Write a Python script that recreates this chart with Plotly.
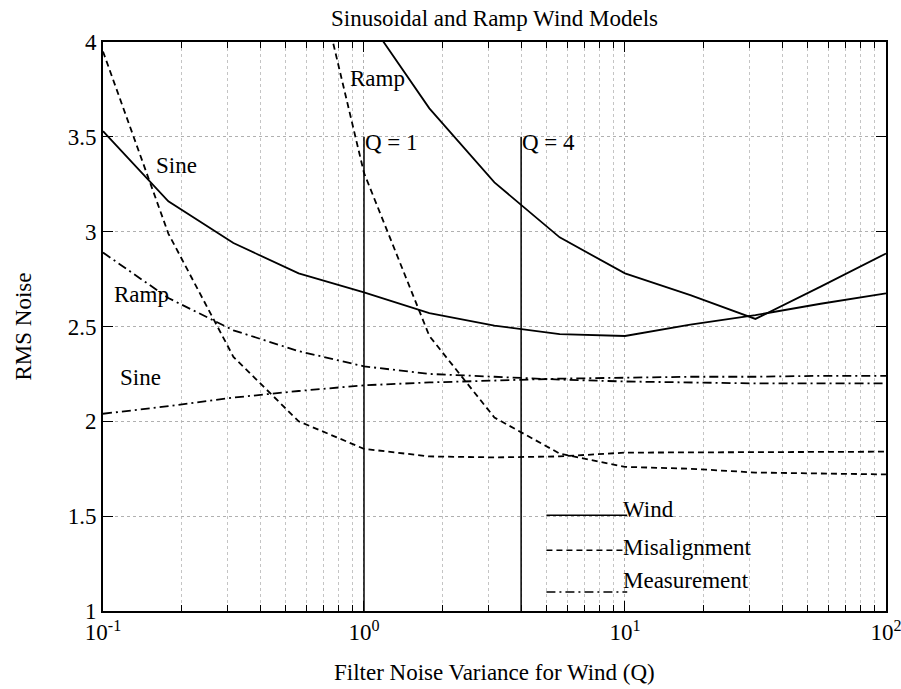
import math
import plotly.graph_objects as go

# ---- data ----
Q = [0.1, 0.178, 0.316, 0.562, 1.0, 1.78, 3.16, 5.62, 10.0, 17.8, 31.6, 56.2, 100.0]
wind_sine = [3.53, 3.16, 2.94, 2.78, 2.68, 2.57, 2.505, 2.46, 2.45, 2.51, 2.56, 2.62, 2.675]
Q_wind_ramp = [1.0, 1.78, 3.16, 5.62, 10.0, 17.8, 31.6, 56.2, 100.0]
wind_ramp = [4.15, 3.65, 3.26, 2.97, 2.78, 2.665, 2.54, 2.71, 2.885]
mis_sine = [3.95, 2.99, 2.34, 2.0, 1.855, 1.815, 1.81, 1.815, 1.835, 1.837, 1.838, 1.84, 1.84]
Q_mis_ramp = [0.562, 1.0, 1.78, 3.16, 5.62, 10.0, 17.8, 31.6, 56.2, 100.0]
mis_ramp = [4.76, 3.31, 2.45, 2.02, 1.83, 1.76, 1.75, 1.73, 1.725, 1.72]
meas_ramp = [2.89, 2.65, 2.48, 2.37, 2.29, 2.25, 2.235, 2.22, 2.21, 2.205, 2.2, 2.2, 2.2]
meas_sine = [2.04, 2.08, 2.125, 2.16, 2.19, 2.205, 2.215, 2.225, 2.23, 2.235, 2.235, 2.24, 2.24]

q_marks = [1, 4]
q_mark_y = [1, 3.5]
q_mark_labels = ["Q = 1", "Q = 4"]

legend_names = ["Wind", "Misalignment", "Measurement"]
legend_x = [5.0, 10.2]
legend_line_y = [1.505, 1.32, 1.10]
legend_text_y = [1.535, 1.335, 1.16]
legend_text_x = 10.0

curve_labels = [("Sine", 0.192, 3.35, "center"), ("Ramp", 0.868, 3.805, "left"),
                ("Ramp", 0.108, 2.67, "left"), ("Sine", 0.114, 2.23, "left")]

y_ticks = [1, 1.5, 2, 2.5, 3, 3.5, 4]
y_tick_text = ["1", "1.5", "2", "2.5", "3", "3.5", "4"]
x_ticks = [0.1, 1, 10, 100]
x_tick_text = ["10<sup>-1</sup>", "10<sup>0</sup>", "10<sup>1</sup>", "10<sup>2</sup>"]
x_minor = [0.2, 0.3, 0.4, 0.5, 0.6, 0.7, 0.8, 0.9, 2, 3, 4, 5, 6, 7, 8, 9,
           20, 30, 40, 50, 60, 70, 80, 90]

FONT = "Liberation Serif"
FS = 23
styles = {"Wind": "solid", "Misalignment": "6px,4px", "Measurement": "9px,4px,2px,4px"}
LW = 1.8

fig = go.Figure()

def add_line(x, y, kind):
    fig.add_trace(go.Scatter(x=x, y=y, mode="lines", showlegend=False,
                             line=dict(color="black", width=LW, dash=styles[kind])))

add_line(Q, wind_sine, "Wind")
add_line(Q_wind_ramp, wind_ramp, "Wind")
add_line(Q, mis_sine, "Misalignment")
add_line(Q_mis_ramp, mis_ramp, "Misalignment")
add_line(Q, meas_ramp, "Measurement")
add_line(Q, meas_sine, "Measurement")

for qx, lab in zip(q_marks, q_mark_labels):
    fig.add_trace(go.Scatter(x=[qx, qx], y=q_mark_y, mode="lines", showlegend=False,
                             line=dict(color="black", width=1.5)))
    fig.add_annotation(x=math.log10(qx), y=3.47, xref="x", yref="y", text=lab,
                       showarrow=False, xanchor="left", yanchor="middle", xshift=-1,
                       font=dict(family=FONT, size=FS, color="black"))

for name, ly, ty in zip(legend_names, legend_line_y, legend_text_y):
    fig.add_trace(go.Scatter(x=legend_x, y=[ly, ly], mode="lines", showlegend=False,
                             line=dict(color="black", width=1.5, dash=styles[name])))
    fig.add_annotation(x=math.log10(legend_text_x), y=ty, xref="x", yref="y", text=name,
                       showarrow=False, xanchor="left", yanchor="middle", xshift=-4,
                       font=dict(family=FONT, size=FS, color="black"))

for txt, cx, cy, anc in curve_labels:
    fig.add_annotation(x=math.log10(cx), y=cy, xref="x", yref="y", text=txt,
                       showarrow=False, xanchor=anc, yanchor="middle",
                       font=dict(family=FONT, size=FS, color="black"))

fig.update_layout(
    width=901, height=689,
    margin=dict(l=103, r=15, t=42, b=78, autoexpand=False),
    paper_bgcolor="white", plot_bgcolor="white",
    font=dict(family=FONT, size=FS, color="black"),
    title=dict(text="Sinusoidal and Ramp Wind Models", x=0.5, xref="paper",
               y=1 - 18 / 689, yanchor="middle", font=dict(family=FONT, size=FS)),
    showlegend=False,
)

fig.update_xaxes(type="log", range=[-1, 2.0001], tickmode="array", tickvals=x_ticks,
                 ticktext=x_tick_text, ticks="inside", ticklen=10, tickwidth=1.2,
                 tickcolor="black", showline=True, linecolor="black", linewidth=1.6,
                 mirror="allticks", showgrid=True, gridcolor="#b0b0b0", griddash="dot",
                 gridwidth=1, zeroline=False, ticklabeloverflow="allow", automargin=False,
                 minor=dict(tickmode="array", tickvals=x_minor, ticks="inside", ticklen=6,
                            tickcolor="black", showgrid=True, gridcolor="#c4c4c4",
                            griddash="dot", gridwidth=1),
                 tickfont=dict(family=FONT, size=FS))
fig.update_yaxes(range=[1, 4], tickmode="array", tickvals=y_ticks, ticktext=y_tick_text,
                 ticks="inside", ticklen=10, tickwidth=1.2, tickcolor="black",
                 showline=True, linecolor="black", linewidth=1.6, mirror="allticks",
                 showgrid=True, gridcolor="#b0b0b0", griddash="dot", gridwidth=1,
                 zeroline=False, automargin=False, tickfont=dict(family=FONT, size=FS))

fig.add_annotation(x=0.5, y=-(672 - 611) / 569, xref="paper", yref="paper",
                   text="Filter Noise Variance for Wind (Q)", showarrow=False,
                   xanchor="center", yanchor="middle", font=dict(family=FONT, size=FS))
fig.add_annotation(x=-(103 - 23) / 783, y=0.5, xref="paper", yref="paper",
                   text="RMS Noise", showarrow=False, textangle=-90,
                   xanchor="center", yanchor="middle", font=dict(family=FONT, size=FS))

fig.write_html("out.html")
